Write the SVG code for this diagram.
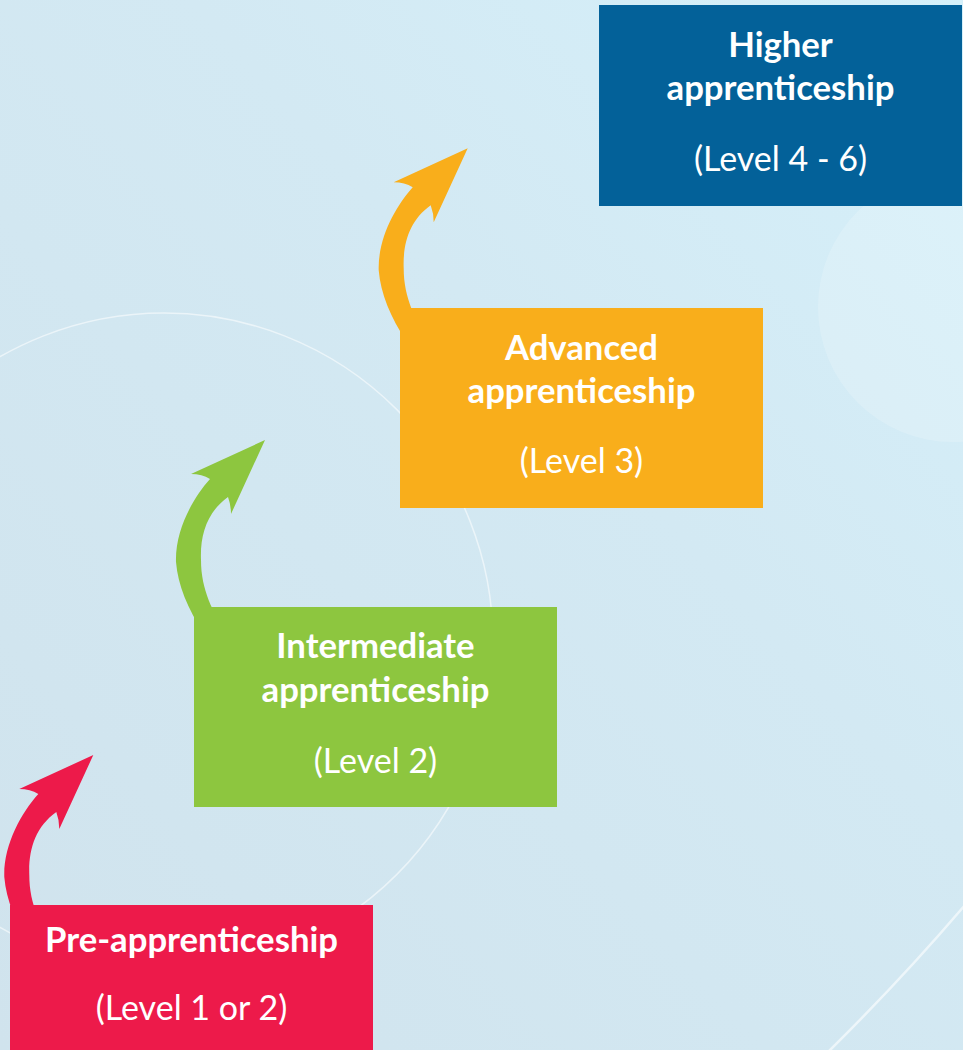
<svg xmlns="http://www.w3.org/2000/svg" width="963" height="1050" viewBox="0 0 963 1050">
<defs>
<linearGradient id="bg" x1="0" y1="1" x2="1" y2="0">
<stop offset="0" stop-color="#d0e3ed"/>
<stop offset="0.6" stop-color="#d3e9f3"/>
<stop offset="1" stop-color="#d5f0fa"/>
</linearGradient>
<path id="arrow" d="M0,0 L-74,34 Q-63,34 -55,39 C-72,58 -90,90 -89,122 C-87,145 -78,168 -60,195 L-38,195 C-52,172 -64,150 -64,120 C-65,95 -58,72 -37,57 Q-34,65 -34,74 Z"/>
<style>
.t{font-family:Lato,"Open Sans","Noto Sans",sans-serif;fill:#ffffff;text-anchor:middle;font-size:34px}
.b{font-weight:700;font-size:34.7px}
.arc{fill:none;stroke:#ffffff}
</style>
</defs>
<rect x="0" y="0" width="963" height="1050" fill="url(#bg)"/>
<circle cx="953" cy="307" r="135" fill="#ffffff" fill-opacity="0.18"/>
<circle class="arc" cx="164" cy="642" r="329" stroke-width="1.5" stroke-opacity="0.55"/>
<path class="arc" d="M828,1052 Q901,980 965,905" stroke-width="2.5" stroke-opacity="0.6"/>

<g id="connectors">
<use href="#arrow" x="93.3" y="755" fill="#ed1a4a"/>
<use href="#arrow" x="265" y="440" fill="#8dc63f"/>
<use href="#arrow" x="467.7" y="148.3" fill="#f9ae1b"/>
</g>

<g id="node-pre">
<rect x="10" y="905" width="363" height="150" fill="#ed1a4a"/>
<text class="t b" x="191.5" y="952">Pre-apprenticeship</text>
<text class="t" x="191.5" y="1020">(Level 1 or 2)</text>
</g>
<g id="node-intermediate">
<rect x="194" y="607" width="363" height="200" fill="#8dc63f"/>
<text class="t b" x="375.5" y="658">Intermediate</text>
<text class="t b" x="375.5" y="702">apprenticeship</text>
<text class="t" x="375.5" y="773">(Level 2)</text>
</g>
<g id="node-advanced">
<rect x="400" y="308" width="363" height="200" fill="#f9ae1b"/>
<text class="t b" x="581.5" y="360">Advanced</text>
<text class="t b" x="581.5" y="403">apprenticeship</text>
<text class="t" x="581.5" y="473">(Level 3)</text>
</g>
<g id="node-higher">
<rect x="599" y="5" width="363" height="201" fill="#036199"/>
<text class="t b" x="780.5" y="57">Higher</text>
<text class="t b" x="780.5" y="100">apprenticeship</text>
<text class="t" x="780.5" y="171">(Level 4 - 6)</text>
</g>
</svg>
